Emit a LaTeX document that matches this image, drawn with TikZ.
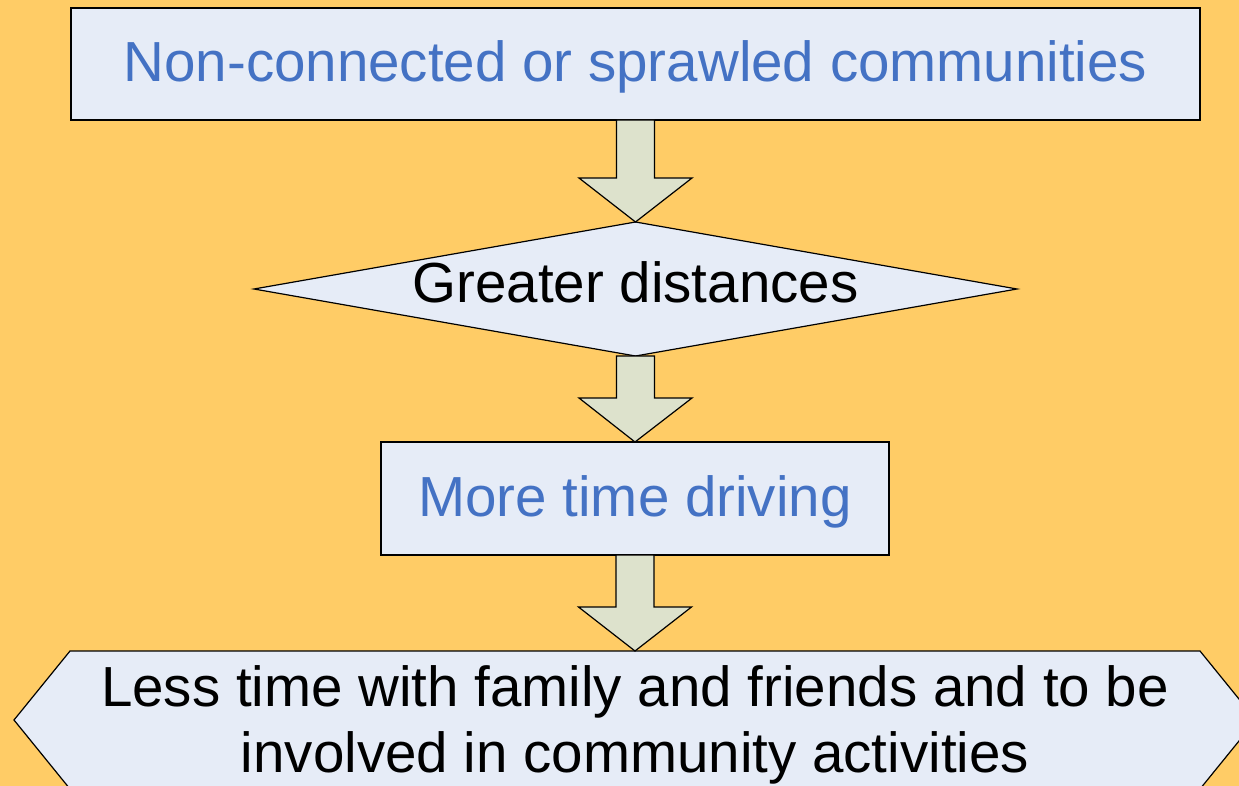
\documentclass[tikz,border=0pt]{standalone}
\usepackage{fontspec}
\setmainfont{Liberation Sans}
\usetikzlibrary{shapes.geometric,calc}
\definecolor{bgc}{RGB}{255,204,102}
\definecolor{boxfill}{RGB}{230,236,247}
\definecolor{arrfill}{RGB}{221,226,204}
\definecolor{bluetext}{RGB}{68,114,196}
\tikzset{
  shapeframe/.style={draw=black,line width=1.2pt,fill=boxfill,inner sep=0pt,outer sep=0pt,
    font=\fontsize{56.5}{66}\selectfont},
  rectbox/.style={shapeframe,rectangle,text=bluetext,text height=45pt,text depth=10pt},
  diabox/.style={shapeframe,diamond,shape aspect=5.7,text=black,text height=37pt,text depth=11pt},
  blockarrow/.style={draw=black,line width=1.2pt,fill=arrfill,line join=miter},
  hexshape/.style={draw=black,line width=1.2pt,fill=boxfill,line join=miter},
  hextext/.style={inner sep=0pt,align=center,text=black,font=\fontsize{56.5}{66}\selectfont}
}
\newcommand{\blockarr}[2]{%
  \path[blockarrow] let \p1=(#1), \p2=(#2) in
    (\x1-19pt,\y1) -- (\x1-19pt,\y2+44pt) -- (\x1-56.5pt,\y2+44pt) -- (\x2,\y2)
    -- (\x1+56.5pt,\y2+44pt) -- (\x1+19pt,\y2+44pt) -- (\x1+19pt,\y1) -- cycle;}
\begin{document}
\begin{tikzpicture}[x=1pt,y=-1pt]
\useasboundingbox (0,0) rectangle (1239,786);
\fill[bgc] (0,0) rectangle (1239,786);
\clip (0,0) rectangle (1239,786);

% nodes
\node[rectbox,minimum width=1129pt,minimum height=112pt] (top) at (635.5,64) {Non-connected or sprawled communities};
\node[diabox,minimum width=763pt,minimum height=134pt] (dia) at (635.5,289) {Greater distances};
\node[rectbox,minimum width=508pt,minimum height=113pt] (drive) at (635,498.5) {More time driving};

% hexagon
\coordinate (hexW) at (14,720);
\coordinate (hexNW) at (70,651);
\coordinate (hextop) at (635,651);
\coordinate (hexNE) at (1200,651);
\coordinate (hexE) at (1256,720);
\coordinate (hexSE) at (1200,789);
\coordinate (hexSW) at (70,789);
\path[hexshape] (hexW) -- (hexNW) -- (hexNE) -- (hexE) -- (hexSE) -- (hexSW) -- cycle;
\node[hextext,anchor=north] (less) at (635,665) {Less time with family and friends and to be\\involved in community activities};

% block arrows
\blockarr{top.south}{dia.north}
\blockarr{dia.south}{drive.north}
\blockarr{drive.south}{hextop}
\end{tikzpicture}
\end{document}
